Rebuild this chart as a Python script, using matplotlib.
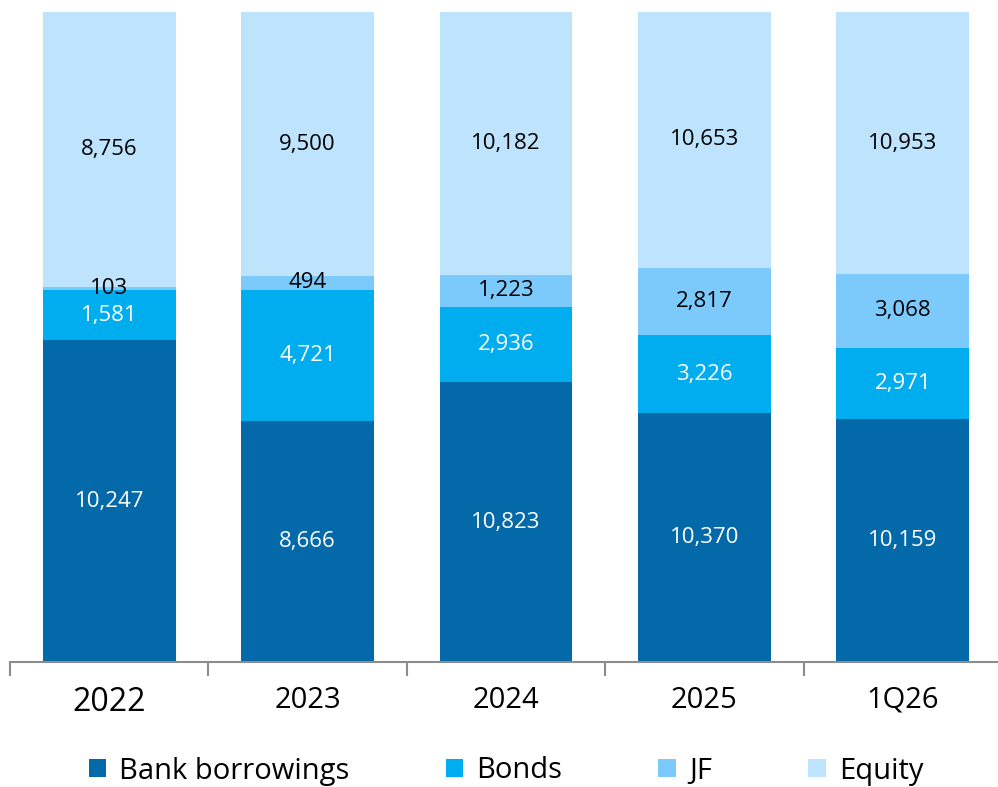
import numpy as np
import matplotlib
matplotlib.use('Agg')
import matplotlib.pyplot as plt
from matplotlib.ticker import FixedLocator

plt.rcParams['font.family'] = ['Open Sans', 'DejaVu Sans']

periods = ['2022', '2023', '2024', '2025', '1Q26']
series = ['Bank borrowings', 'Bonds', 'JF', 'Equity']
bank = [10247, 8666, 10823, 10370, 10159]
bonds = [1581, 4721, 2936, 3226, 2971]
jf = [103, 494, 1223, 2817, 3068]
equity = [8756, 9500, 10182, 10653, 10953]

colors = ['#0369a9', '#00aeef', '#7cc9fc', '#bde3fd']
txt_colors = ['white', 'white', 'black', 'black']

vals = np.array([bank, bonds, jf, equity], dtype=float)
pct = vals / vals.sum(axis=0) * 100

fig = plt.figure(figsize=(9.98, 7.87), dpi=100)
ax = fig.add_axes([10 / 998, 125 / 787, 992 / 998, 650 / 787])

x = np.arange(len(periods))
bottom = np.zeros(len(periods))
for i, name in enumerate(series):
    ax.bar(x, pct[i], 0.67, bottom=bottom, color=colors[i], label=name, zorder=2)
    for j in range(len(periods)):
        yc = bottom[j] + pct[i][j] / 2
        ax.text(x[j], yc, f'{int(vals[i][j]):,}', ha='center', va='center',
                fontsize=16, color=txt_colors[i], zorder=3)
    bottom += pct[i]

ax.set_xlim(-0.5, 4.5)
ax.set_ylim(0, 100)
for s in ['top', 'right', 'left']:
    ax.spines[s].set_visible(False)
ax.spines['bottom'].set_color('#8c8c8c')
ax.spines['bottom'].set_linewidth(1.5)
ax.set_yticks([])
ax.set_xticks(x)
ax.set_xticklabels(periods, fontsize=21)
ax.tick_params(axis='x', which='major', length=0, pad=17)
ax.xaxis.set_minor_locator(FixedLocator(np.arange(-0.5, 4.0, 1.0)))
ax.tick_params(axis='x', which='minor', length=10, width=1.5, color='#8c8c8c')
ax.get_xticklabels()[0].set_fontsize(23)

leg = fig.legend(loc='center', bbox_to_anchor=(0.507, 1 - 771 / 787), ncol=4,
                 frameon=False, fontsize=21, handlelength=0.6, handleheight=0.6,
                 handletextpad=0.45, columnspacing=3.3)

fig.savefig('out.png', dpi=100)
